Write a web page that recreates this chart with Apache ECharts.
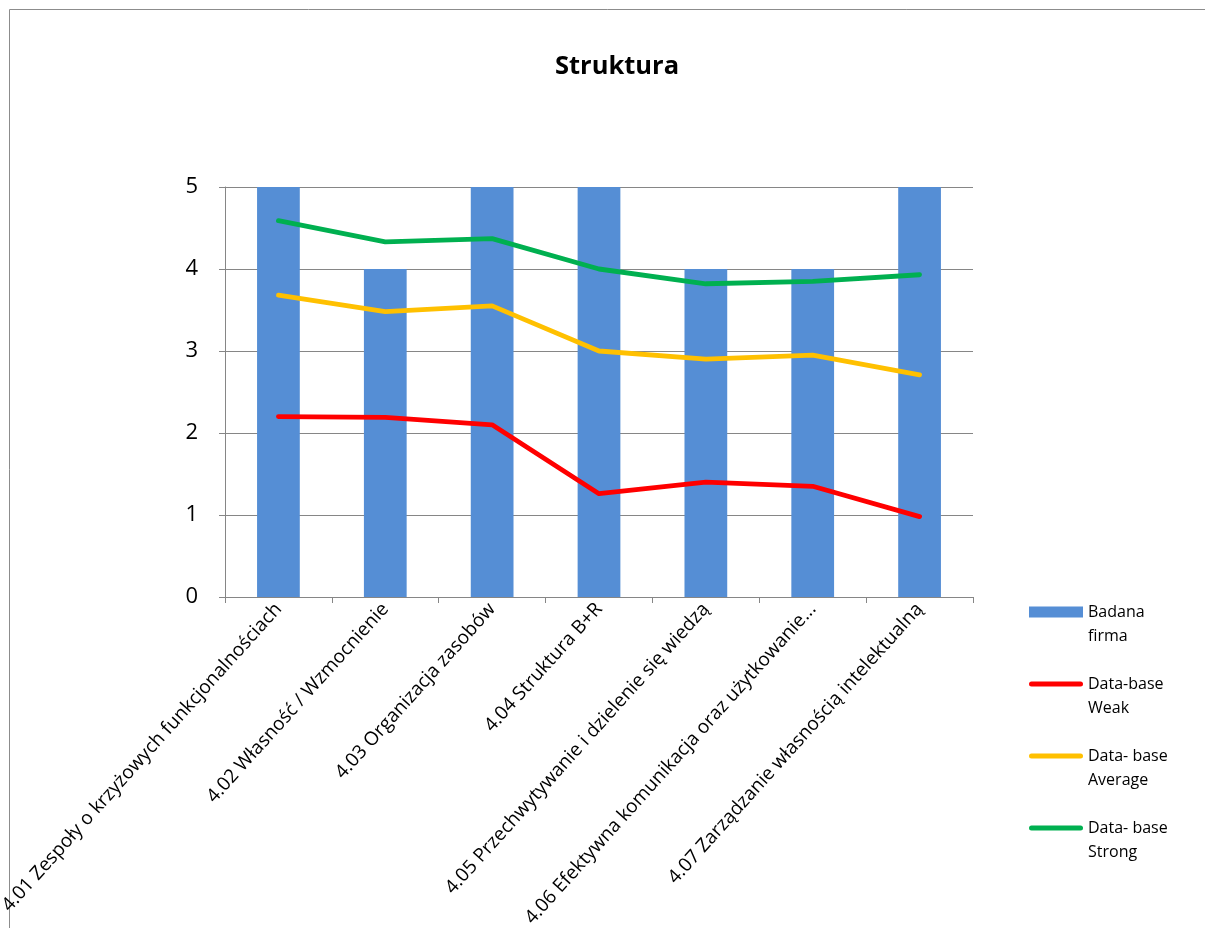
<!DOCTYPE html>
<html>
<head>
<meta charset="utf-8">
<script src="https://cdn.jsdelivr.net/npm/echarts@6/dist/echarts.min.js"></script>
<style>
  html, body { margin: 0; padding: 0; background: #fff; }
  #chart { width: 1205px; height: 928px; }
</style>
</head>
<body>
<div id="chart"></div>
<script>
// Categories (x axis)
const categories = [
  '4.01 Zespoły o krzyżowych funkcjonalnościach',
  '4.02 Własność / Wzmocnienie',
  '4.03 Organizacja zasobów',
  '4.04 Struktura B+R',
  '4.05 Przechwytywanie i dzielenie się wiedzą',
  '4.06 Efektywna komunikacja oraz użytkowanie...',
  '4.07 Zarządzanie własnością intelektualną'
];

// Series values
const badanaFirma = [5, 4, 5, 5, 4, 4, 5];
const dbWeak      = [2.2, 2.19, 2.1, 1.26, 1.4, 1.35, 0.98];
const dbAverage   = [3.68, 3.48, 3.55, 3.0, 2.9, 2.95, 2.71];
const dbStrong    = [4.59, 4.33, 4.37, 4.0, 3.82, 3.85, 3.93];

// Y axis range
const yMin = 0, yMax = 5, yStep = 1;

const FONT = '"Open Sans", "Noto Sans", sans-serif';
const GRID_COLOR = '#868686';
const LINE_ICON = 'path://M2.5,0 L51.5,0 A2.5,2.5 0 0 1 51.5,5 L2.5,5 A2.5,2.5 0 0 1 2.5,0 Z';

const chart = echarts.init(document.getElementById('chart'), null, { renderer: 'canvas' });

const lineSeries = (name, data, color) => ({
  name, type: 'line', data,
  symbol: 'none',
  z: 3,
  lineStyle: { color, width: 4.8, cap: 'round', join: 'round' },
  itemStyle: { color }
});

chart.setOption({
  animation: false,
  backgroundColor: '#fff',
  title: {
    text: 'Struktura',
    left: 550,
    top: 49,
    textStyle: { fontFamily: FONT, fontSize: 25.5, fontWeight: 'bold', color: '#000' }
  },
  graphic: [{
    type: 'rect',
    shape: { x: 9.5, y: 9.5, width: 1400, height: 1100 },
    style: { fill: 'none', stroke: '#8c8c8c', lineWidth: 1 },
    silent: true
  }],
  grid: {
    left: 225, right: 232, top: 187, bottom: 331,
    containLabel: false, outerBoundsMode: 'none'
  },
  legend: {
    orient: 'vertical',
    left: 1029,
    top: 576,
    padding: 0,
    itemWidth: 54,
    itemHeight: 11,
    itemGap: 0,
    symbolKeepAspect: true,
    // leading blank line keeps the icon level with the first text line
    formatter: (name) => '\n' + name.replace(/ (?=\S+$)/, '\n'),
    textStyle: {
      fontFamily: FONT, fontSize: 16, color: '#000', lineHeight: 24
    },
    data: [
      { name: 'Badana firma', icon: 'rect' },
      { name: 'Data-base Weak', icon: LINE_ICON },
      { name: 'Data- base Average', icon: LINE_ICON },
      { name: 'Data- base Strong', icon: LINE_ICON }
    ]
  },
  xAxis: {
    type: 'category',
    data: categories,
    boundaryGap: true,
    axisLine: { lineStyle: { color: GRID_COLOR, width: 1 } },
    axisTick: { show: true, length: 6, lineStyle: { color: GRID_COLOR } },
    axisLabel: {
      interval: 0, rotate: 48, margin: 9,
      fontFamily: FONT, fontSize: 19, color: '#000'
    }
  },
  yAxis: {
    type: 'value',
    min: yMin, max: yMax, interval: yStep,
    axisLine: { show: true, lineStyle: { color: GRID_COLOR, width: 1 } },
    axisTick: { show: true, length: 6, lineStyle: { color: GRID_COLOR } },
    splitLine: { show: true, lineStyle: { color: GRID_COLOR, width: 1 } },
    axisLabel: { margin: 27, fontFamily: FONT, fontSize: 22, color: '#000' }
  },
  series: [
    {
      name: 'Badana firma', type: 'bar', data: badanaFirma,
      barWidth: '40%', z: 2,
      itemStyle: { color: '#558ED5' }
    },
    lineSeries('Data-base Weak', dbWeak, '#FF0000'),
    lineSeries('Data- base Average', dbAverage, '#FFC000'),
    lineSeries('Data- base Strong', dbStrong, '#00B050')
  ]
});
</script>
</body>
</html>
